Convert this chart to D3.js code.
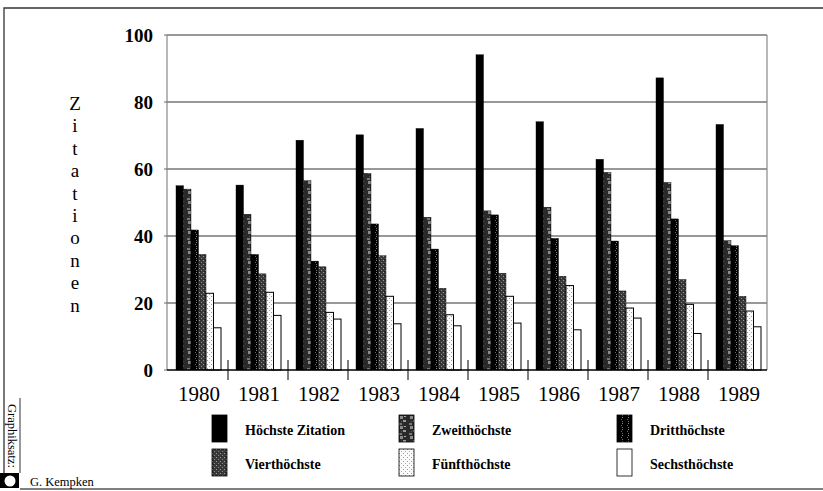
<!DOCTYPE html>
<html>
<head>
<meta charset="utf-8">
<script src="https://cdn.jsdelivr.net/npm/d3@7"></script>
<style>
  body { margin: 0; background: #fff; }
  text { font-family: "Liberation Serif", "DejaVu Serif", serif; fill: #000; }
</style>
</head>
<body>
<div id="chart"></div>
<script>
const years = ['1980', '1981', '1982', '1983', '1984', '1985', '1986', '1987', '1988', '1989'];
const seriesNames = ['Höchste Zitation', 'Zweithöchste', 'Dritthöchste', 'Vierthöchste', 'Fünfthöchste', 'Sechsthöchste'];
const hoechste   = [55, 55.2, 68.6, 70.2, 72.1, 94.1, 74.1, 62.9, 87.2, 73.3];
const zweit      = [54, 46.5, 56.5, 58.7, 45.6, 47.5, 48.6, 59, 56, 38.6];
const dritt      = [41.8, 34.5, 32.5, 43.6, 36.1, 46.3, 39.3, 38.5, 45.1, 37.1];
const viert      = [34.5, 28.7, 30.8, 34.1, 24.4, 28.9, 28, 23.6, 27, 22];
const fuenft     = [22.9, 23.2, 17.2, 22, 16.5, 22, 25.2, 18.5, 19.6, 17.6];
const sechst     = [12.6, 16.3, 15.2, 13.8, 13.2, 14, 12, 15.5, 10.9, 12.9];
const seriesValues = [hoechste, zweit, dritt, viert, fuenft, sechst];
const yTicks = [0, 20, 40, 60, 80, 100];

const width = 823, height = 491;
const svg = d3.select('#chart').append('svg')
  .attr('width', width).attr('height', height);

// fill patterns, imitating the printed screens
const defs = svg.append('defs');
function pattern(id, bg, dots, size) {
  const p = defs.append('pattern').attr('id', id)
    .attr('patternUnits', 'userSpaceOnUse').attr('width', size).attr('height', size);
  p.append('rect').attr('width', size).attr('height', size).attr('fill', bg);
  dots.forEach(d => p.append('rect').attr('x', d[0]).attr('y', d[1])
    .attr('width', d[2]).attr('height', d[3]).attr('fill', d[4]));
}
pattern('p1', '#2a2a2a', [[1, 1, 3, 3, '#8a8a8a'], [4, 5, 3, 2, '#9a9a9a'], [0, 8, 3, 2, '#777'], [5, 1, 2, 1, '#aaa'], [2, 6, 1, 1, '#555']], 10);
pattern('p2', '#000', [[5, 0, 1, 1, '#777'], [5, 2, 1, 1, '#888'], [4, 4, 1, 1, '#666']], 6);
pattern('p3', '#3a3a3a', [[0, 0, 1, 1, '#999'], [2, 2, 1, 1, '#888'], [1, 3, 1, 1, '#222']], 4);
pattern('p4', '#fafafa', [[0, 0, 1, 1, '#999'], [2, 2, 1, 1, '#aaa']], 4);
const fills = ['#000', 'url(#p1)', 'url(#p2)', 'url(#p3)', 'url(#p4)', '#fff'];

const x0 = d3.scaleBand().domain(years).range([167, 767]);
const x1 = d3.scaleBand().domain(d3.range(seriesNames.length)).range([9, 54]);
const y = d3.scaleLinear().domain([0, 100]).range([370, 35]);

// page frame
svg.append('path').attr('d', 'M4,473 V8 H823').attr('fill', 'none').attr('stroke', '#333').attr('stroke-width', 1.3);
svg.append('line').attr('x1', 20).attr('x2', 823).attr('y1', 489).attr('y2', 489).attr('stroke', '#555').attr('stroke-width', 1.3);
svg.append('line').attr('x1', 20).attr('x2', 20).attr('y1', 398).attr('y2', 473).attr('stroke', '#333');

// grid lines
svg.append('g').selectAll('line').data(yTicks.filter(d => d > 0)).join('line')
  .attr('x1', 167).attr('x2', 767)
  .attr('y1', d => y(d)).attr('y2', d => y(d))
  .attr('stroke', '#333').attr('stroke-width', 1.2);
svg.append('line').attr('x1', 167).attr('x2', 167).attr('y1', y(100)).attr('y2', y(0))
  .attr('stroke', '#888').attr('stroke-width', 1.2);
svg.append('line').attr('x1', 767).attr('x2', 767).attr('y1', y(100)).attr('y2', y(0))
  .attr('stroke', '#888').attr('stroke-width', 1.2);
svg.append('g').selectAll('line').data(yTicks).join('line')
  .attr('x1', 164).attr('x2', 167).attr('y1', d => y(d)).attr('y2', d => y(d))
  .attr('stroke', '#666');

// bars
const groups = svg.append('g').selectAll('g').data(years).join('g')
  .attr('transform', d => `translate(${x0(d)},0)`);
groups.selectAll('rect').data((yr, i) => seriesValues.map((s, k) => ({ k, v: s[i] }))).join('rect')
  .attr('x', d => x1(d.k))
  .attr('y', d => y(d.v))
  .attr('width', x1.bandwidth())
  .attr('height', d => y(0) - y(d.v))
  .attr('fill', d => fills[d.k])
  .attr('stroke', '#000')
  .attr('stroke-width', d => d.k >= 4 ? 1 : 0.4);

// x axis
svg.append('line').attr('x1', 167).attr('x2', 767).attr('y1', y(0)).attr('y2', y(0))
  .attr('stroke', '#000').attr('stroke-width', 1.3);
svg.append('g').selectAll('line').data(years.slice(1)).join('line')
  .attr('x1', d => x0(d) + 1).attr('x2', d => x0(d) + 1)
  .attr('y1', 360).attr('y2', 380).attr('stroke', '#000');
svg.append('g').selectAll('text').data(years).join('text')
  .attr('x', d => x0(d) + x0.bandwidth() / 2 + 2)
  .attr('y', 401)
  .attr('text-anchor', 'middle')
  .style('font-size', '21px')
  .text(d => d);

// y tick labels
svg.append('g').selectAll('text').data(yTicks).join('text')
  .attr('x', 153).attr('y', d => y(d) + 7)
  .attr('text-anchor', 'end')
  .style('font-size', '19px').style('font-weight', 'bold')
  .text(d => d);

// vertical axis title, letter by letter
svg.append('g').selectAll('text').data('Zitationen'.split('')).join('text')
  .attr('x', 75).attr('y', (d, i) => 110 + i * 22.4)
  .attr('text-anchor', 'middle')
  .style('font-size', '19px')
  .text(d => d);

// legend
const legCols = [212, 399, 617], legRows = [415, 449];
const legend = svg.append('g').selectAll('g').data(seriesNames).join('g')
  .attr('transform', (d, i) => `translate(${legCols[i % 3]},${legRows[Math.floor(i / 3)]})`);
legend.append('rect').attr('width', 15).attr('height', 27)
  .attr('fill', (d, i) => fills[i]).attr('stroke', '#000').attr('stroke-width', 0.8);
legend.append('text').attr('x', 33).attr('y', 20)
  .style('font-size', '14px').style('font-weight', 'bold')
  .text(d => d);

// credit
svg.append('text').attr('transform', 'translate(8,404) rotate(90)')
  .style('font-size', '12.5px').text('Graphiksatz:');
svg.append('rect').attr('x', 0).attr('y', 473).attr('width', 19).attr('height', 15).attr('fill', '#000');
svg.append('circle').attr('cx', 10).attr('cy', 481).attr('r', 5.5).attr('fill', '#fff');
svg.append('text').attr('x', 30).attr('y', 486).style('font-size', '12.5px').text('G. Kempken');
</script>
</body>
</html>
